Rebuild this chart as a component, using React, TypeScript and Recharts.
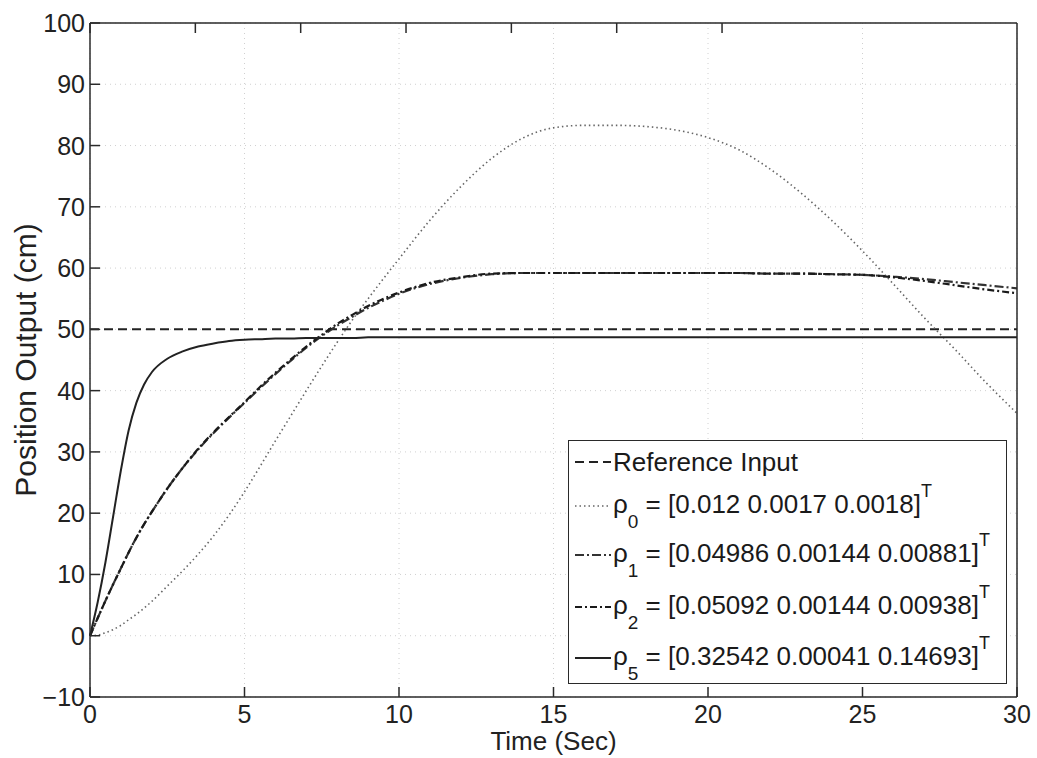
import { LineChart, Line, XAxis, YAxis, CartesianGrid, Legend } from 'recharts';

// time axis (s) and readings of each response (cm)
const TIME = [0, 0.25, 0.5, 0.75, 1, 1.25, 1.5, 1.75, 2, 2.5, 3, 3.5, 4, 4.5, 5, 5.5, 6, 6.5, 7, 7.5, 8, 8.5, 9, 9.5, 10,
  11, 12, 13, 14, 15, 16, 17, 18, 19, 20, 21, 22, 23, 24, 25, 26, 27, 28, 29, 30];
const RHO0 = [0, 0.1, 0.5, 1.0, 1.7, 2.6, 3.5, 4.5, 5.6, 8.1, 10.6, 13.3, 16.3, 19.7, 23.5, 27.6, 31.8, 35.9, 40, 44, 47.9, 51.6, 55, 58.3, 61.5,
  67.8, 73.3, 77.9, 81.2, 82.9, 83.3, 83.3, 83.1, 82.5, 81.3, 79.3, 76.2, 72.3, 67.8, 62.8, 57.4, 51.9, 46.7, 41.3, 36.3];
const RHO1 = [0, 2.9, 5.7, 8.4, 11, 13.6, 16, 18.2, 20.2, 24, 27.4, 30.4, 33.1, 35.6, 38, 40.4, 42.7, 44.9, 47, 48.9, 50.6, 52.1, 53.5, 54.7, 55.8,
  57.4, 58.4, 59, 59.2, 59.2, 59.2, 59.2, 59.2, 59.2, 59.2, 59.2, 59.1, 59.1, 59, 58.9, 58.6, 58.2, 57.7, 57.2, 56.7];
const RHO2 = [0, 2.9, 5.7, 8.4, 11, 13.6, 16, 18.2, 20.2, 24, 27.4, 30.5, 33.2, 35.7, 38.1, 40.6, 42.9, 45.1, 47.2, 49.1, 50.9, 52.4, 53.8, 55, 56,
  57.6, 58.5, 59.1, 59.2, 59.2, 59.2, 59.2, 59.2, 59.2, 59.2, 59.2, 59.1, 59.1, 59, 58.9, 58.5, 57.9, 57.2, 56.5, 55.9];
const RHO5 = [0, 5.5, 12, 19.5, 27, 33.5, 38, 41, 43, 45.2, 46.4, 47.2, 47.7, 48.1, 48.3, 48.4, 48.5, 48.5, 48.6, 48.6, 48.6, 48.6, 48.7, 48.7, 48.7,
  48.7, 48.7, 48.7, 48.7, 48.7, 48.7, 48.7, 48.7, 48.7, 48.7, 48.7, 48.7, 48.7, 48.7, 48.7, 48.7, 48.7, 48.7, 48.7, 48.7];

// step reference input
const REF_TIME = [0, 30];
const REF_VALUE = [50, 50];

const X_TICKS = [0, 5, 10, 15, 20, 25, 30];
const Y_TICKS = [-10, 0, 10, 20, 30, 40, 50, 60, 70, 80, 90, 100];

const LEGEND_SUBS = ['0', '1', '2', '5'];
const LEGEND_VALUES = ['0.012 0.0017 0.0018', '0.04986 0.00144 0.00881', '0.05092 0.00144 0.00938', '0.32542 0.00041 0.14693'];

const FONT = '"Liberation Sans", Arial, Helvetica, sans-serif';
const AXIS_COLOR = '#2a2a2a';
const TICK_LEN = 10;

const data = TIME.map((t, i) => ({ t, p0: RHO0[i], p1: RHO1[i], p2: RHO2[i], p5: RHO5[i] }));
const refData = REF_TIME.map((t, i) => ({ t, ref: REF_VALUE[i] }));

const styles = [
  { key: 'ref', color: '#222', width: 2, dash: '9 5' },
  { key: 'p0', color: '#666', width: 1.6, dash: '1.5 3' },
  { key: 'p1', color: '#333', width: 2.2, dash: '9 3 2 3' },
  { key: 'p2', color: '#1a1a1a', width: 2.2, dash: '7 3 2 3' },
  { key: 'p5', color: '#222', width: 2, dash: undefined },
];

const fmt = (v: number) => String(v).replace('-', '\u2212');

const LeftTick = (props: any) => {
  const { x, y, payload } = props;
  return (
    <g>
      <line x1={x + 5} x2={x + 5 + TICK_LEN} y1={y} y2={y} stroke={AXIS_COLOR} strokeWidth={1.5} />
      <text x={x} y={y} dy="0.36em" textAnchor="end" fontSize={25} fontFamily={FONT} fill="#222">
        {fmt(payload.value)}
      </text>
    </g>
  );
};

const BottomTick = (props: any) => {
  const { x, y, payload } = props;
  return (
    <g>
      <line x1={x} x2={x} y1={y - 8} y2={y - 8 - TICK_LEN} stroke={AXIS_COLOR} strokeWidth={1.5} />
      <text x={x} y={y} dy="0.71em" textAnchor="middle" fontSize={25} fontFamily={FONT} fill="#222">
        {fmt(payload.value)}
      </text>
    </g>
  );
};

const RightTick = (props: any) => {
  const { x, y } = props;
  return <line x1={x - TICK_LEN} x2={x} y1={y} y2={y} stroke={AXIS_COLOR} strokeWidth={1.5} />;
};

const TopTick = (props: any) => {
  const { x, y } = props;
  return <line x1={x} x2={x} y1={y} y2={y + TICK_LEN} stroke={AXIS_COLOR} strokeWidth={1.5} />;
};

const Sample = ({ s }: { s: (typeof styles)[number] }) => (
  <svg width={40} height={12} style={{ flex: 'none' }}>
    <line x1={2} x2={38} y1={6} y2={6} stroke={s.color} strokeWidth={s.width} strokeDasharray={s.dash} />
  </svg>
);

const LegendBox = () => {
  const rowHeights = [42, 46, 52, 52, 50];
  return (
    <div
      style={{
        width: 433,
        border: `1.5px solid ${AXIS_COLOR}`,
        background: '#fff',
        fontFamily: FONT,
        fontSize: 26,
        color: '#1a1a1a',
        paddingLeft: 4,
        boxSizing: 'content-box',
      }}
    >
      <div style={{ height: rowHeights[0], display: 'flex', alignItems: 'center' }}>
        <Sample s={styles[0]} />
        <span>Reference Input</span>
      </div>
      {LEGEND_SUBS.map((sub, i) => (
        <div key={sub} style={{ height: rowHeights[i + 1], display: 'flex', alignItems: 'center', whiteSpace: 'nowrap' }}>
          <Sample s={styles[i + 1]} />
          <span style={{ lineHeight: '26px' }}>
            ρ<sub style={{ fontSize: 19, verticalAlign: -15 }}>{sub}</sub> = [{LEGEND_VALUES[i]}]
            <sup style={{ fontSize: 18, verticalAlign: 16 }}>T</sup>
          </span>
        </div>
      ))}
    </div>
  );
};

export default function App() {
  return (
    <div style={{ position: 'absolute', left: 0, top: 0, background: '#fff' }}>
      <LineChart width={1037} height={758} data={data} margin={{ top: 22, right: 19, bottom: 0, left: 0 }}>
        <CartesianGrid stroke="#d0d0d0" strokeDasharray="1 4" />
        <XAxis
          dataKey="t"
          type="number"
          domain={[0, 30]}
          ticks={X_TICKS}
          interval={0}
          height={61}
          tickSize={0}
          tickMargin={8}
          tick={<BottomTick />}
          axisLine={{ stroke: AXIS_COLOR, strokeWidth: 1.5 }}
          label={{ value: 'Time (Sec)', position: 'insideBottom', offset: 8, fontSize: 26, fontFamily: FONT, fill: '#222' }}
        />
        <XAxis
          xAxisId="top"
          orientation="top"
          type="number"
          domain={[0, 30]}
          ticks={X_TICKS}
          interval={0}
          height={1}
          tickSize={0}
          tickMargin={0}
          tick={<TopTick />}
          axisLine={{ stroke: AXIS_COLOR, strokeWidth: 1.5 }}
        />
        <YAxis
          type="number"
          domain={[-10, 100]}
          ticks={Y_TICKS}
          interval={0}
          width={90}
          tickSize={0}
          tickMargin={5}
          tick={<LeftTick />}
          axisLine={{ stroke: AXIS_COLOR, strokeWidth: 1.5 }}
          label={{
            value: 'Position Output (cm)',
            angle: -90,
            position: 'insideLeft',
            offset: 25,
            dx: 0,
            style: { textAnchor: 'middle', fontSize: 30, fontFamily: FONT, fill: '#222' },
          }}
        />
        <YAxis
          yAxisId="right"
          orientation="right"
          type="number"
          domain={[-10, 100]}
          ticks={Y_TICKS}
          interval={0}
          width={1}
          tickSize={0}
          tickMargin={0}
          tick={<RightTick />}
          axisLine={{ stroke: AXIS_COLOR, strokeWidth: 1.5 }}
        />
        <Legend
          layout="vertical"
          align="center"
          verticalAlign="middle"
          content={<LegendBox />}
          wrapperStyle={{ left: 568, top: 440, width: 'auto' }}
        />
        <Line
          data={refData}
          dataKey="ref"
          type="linear"
          stroke={styles[0].color}
          strokeWidth={styles[0].width}
          strokeDasharray={styles[0].dash}
          dot={false}
          isAnimationActive={false}
        />
        {styles.slice(1).map((s) => (
          <Line
            key={s.key}
            dataKey={s.key}
            type="monotone"
            stroke={s.color}
            strokeWidth={s.width}
            strokeDasharray={s.dash}
            dot={false}
            isAnimationActive={false}
          />
        ))}
      </LineChart>
    </div>
  );
}
